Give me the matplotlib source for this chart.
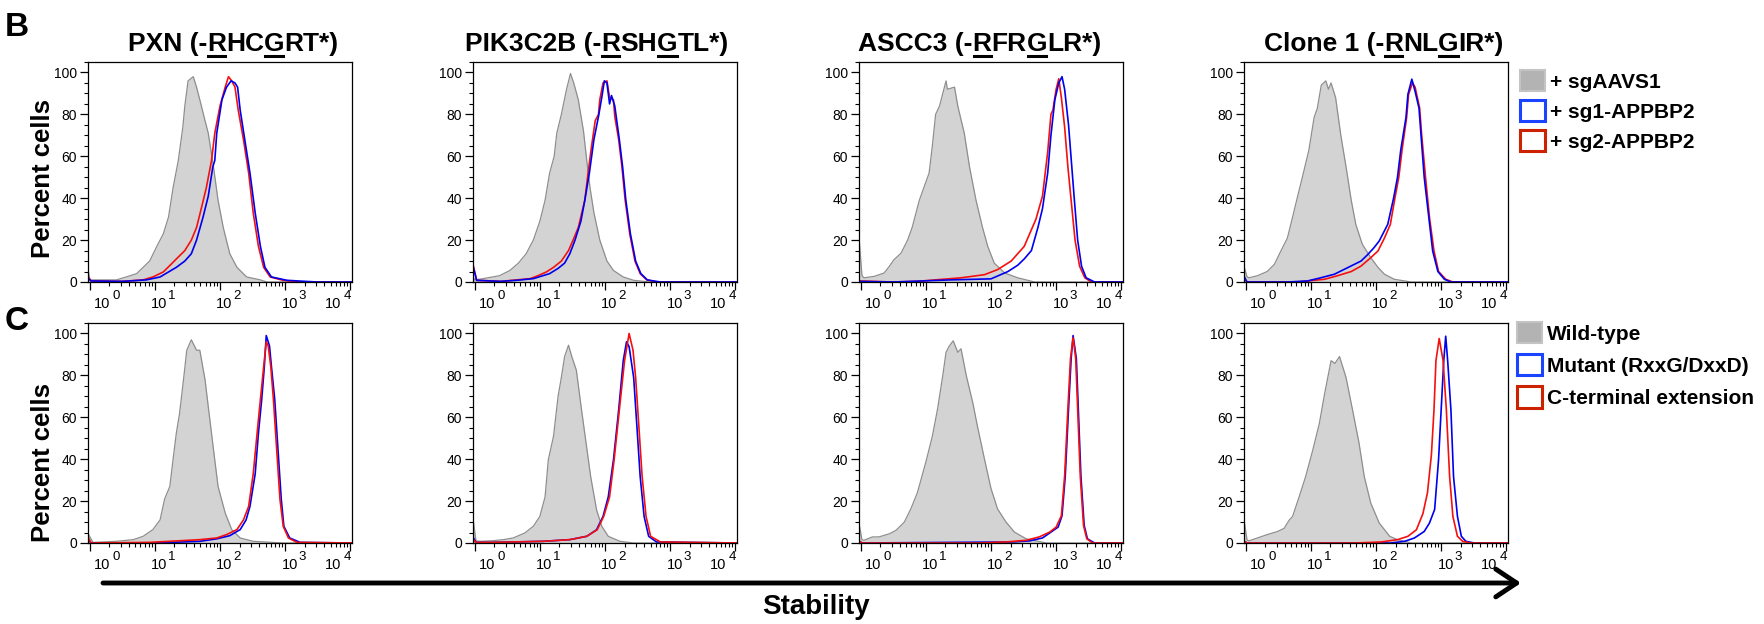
import numpy as np
import matplotlib
matplotlib.use('Agg')
import matplotlib.pyplot as plt
from matplotlib.lines import Line2D
from matplotlib.patches import Patch, FancyArrowPatch
from matplotlib.ticker import LogLocator, MultipleLocator, NullFormatter

plt.rcParams['font.family'] = ['Liberation Sans', 'DejaVu Sans']

# ---- data: x as log10(fluorescence), y as percent of max ----
# row B
b1_gray_lx = [-0.03, 0.0, 0.15, 0.41, 0.56, 0.72, 0.82, 0.92, 1.03, 1.13, 1.21, 1.28, 1.36, 1.43, 1.46, 1.51, 1.59, 1.64, 1.69, 1.77, 1.82, 1.90, 1.97, 2.05, 2.15, 2.26, 2.41, 2.62, 2.72, 4.03]
b1_gray_y = [7, 1, 1, 1, 2.4, 4, 7, 10, 17, 23, 31, 45, 58, 74, 84, 96, 98, 93, 87, 77, 71, 55, 39, 26, 13.5, 7, 2.4, 1, 0, 0]
b1_red_lx = [-0.03, 0.02, 0.5, 0.82, 0.97, 1.13, 1.26, 1.33, 1.46, 1.56, 1.64, 1.72, 1.79, 1.87, 1.92, 2.0, 2.08, 2.13, 2.18, 2.23, 2.28, 2.36, 2.44, 2.51, 2.59, 2.67, 2.77, 2.97, 3.23, 4.03]
b1_red_y = [3, 0.5, 0.3, 1, 2.4, 4.8, 8.8, 11, 15, 20, 26, 36, 45, 58, 71, 84, 93, 98, 96, 93, 82, 68, 52, 33, 17, 7, 2.4, 0.8, 0, 0]
b1_blue_lx = [-0.03, 0.02, 0.5, 0.87, 1.08, 1.21, 1.33, 1.46, 1.56, 1.64, 1.74, 1.82, 1.89, 1.92, 1.95, 2.03, 2.10, 2.17, 2.23, 2.27, 2.31, 2.38, 2.46, 2.54, 2.62, 2.69, 2.79, 3.03, 3.49, 4.03]
b1_blue_y = [2, 0.5, 0.3, 1, 2.4, 4.8, 7, 10, 13.5, 20, 31, 41, 55, 58, 71, 87, 93, 96, 95, 93, 82, 68, 52, 33, 17, 7, 2.4, 0.8, 0, 0]

b2_gray_lx = [-0.03, 0.0, 0.13, 0.38, 0.54, 0.67, 0.79, 0.90, 1.0, 1.08, 1.15, 1.22, 1.26, 1.33, 1.41, 1.47, 1.52, 1.59, 1.67, 1.72, 1.77, 1.83, 1.92, 2.03, 2.13, 2.28, 2.44, 2.69, 4.03]
b2_gray_y = [3, 1, 1.6, 3, 5.5, 9, 13.5, 20, 29, 39, 52, 60, 71, 80, 92, 99.5, 95, 87, 72, 58, 45, 33, 20, 10, 5.5, 2.4, 0.8, 0, 0]
b2_red_lx = [-0.03, 0.03, 0.4, 0.85, 0.97, 1.10, 1.21, 1.33, 1.44, 1.51, 1.59, 1.69, 1.74, 1.79, 1.85, 1.90, 1.92, 1.97, 2.03, 2.07, 2.13, 2.15, 2.21, 2.26, 2.31, 2.38, 2.46, 2.54, 2.64, 2.79, 4.03]
b2_red_y = [9, 0.8, 0.3, 1.6, 3, 4.8, 7, 10, 15, 20, 26, 39, 52, 64, 77, 80, 87, 95, 96, 88, 87, 79, 68, 55, 39, 23, 10, 4, 1, 0, 0]
b2_blue_lx = [-0.03, 0.03, 0.4, 0.64, 0.90, 1.15, 1.28, 1.38, 1.46, 1.54, 1.63, 1.69, 1.76, 1.83, 1.90, 1.95, 1.99, 2.03, 2.07, 2.10, 2.15, 2.22, 2.27, 2.32, 2.39, 2.47, 2.55, 2.65, 2.85, 4.03]
b2_blue_y = [8, 0.8, 0.3, 0.8, 1.6, 4, 6.5, 9, 13.5, 20, 29, 39, 52, 68, 79, 88, 96, 95, 85, 89, 84, 68, 55, 39, 23, 10, 4, 1, 0, 0]

b3_gray_lx = [-0.03, 0.02, 0.05, 0.21, 0.36, 0.44, 0.51, 0.62, 0.72, 0.79, 0.90, 1.05, 1.10, 1.15, 1.21, 1.31, 1.33, 1.44, 1.49, 1.59, 1.67, 1.77, 1.87, 1.95, 2.05, 2.21, 2.41, 2.67, 4.03]
b3_gray_y = [23, 3, 2, 2.7, 4.3, 7.5, 10.6, 13.8, 20, 26, 39, 52, 65, 80, 84, 96, 92, 93, 84, 71, 55, 39, 26, 17, 9, 4.3, 2, 0, 0]
b3_red_lx = [-0.03, 0.5, 0.87, 1.18, 1.54, 1.90, 2.10, 2.31, 2.51, 2.69, 2.79, 2.87, 2.92, 2.95, 3.0, 3.04, 3.08, 3.13, 3.18, 3.23, 3.29, 3.36, 3.44, 3.54, 4.03]
b3_red_y = [0.5, 0, 0.3, 1.1, 2, 3.5, 5.9, 10, 17, 30, 41, 62, 80, 82, 92, 97, 88, 74, 55, 39, 20, 7.5, 2, 0, 0]
b3_blue_lx = [-0.03, 0.5, 1.38, 2.0, 2.26, 2.41, 2.51, 2.62, 2.72, 2.79, 2.87, 2.92, 2.98, 3.04, 3.09, 3.13, 3.19, 3.24, 3.28, 3.33, 3.39, 3.46, 3.59, 4.03]
b3_blue_y = [0.3, 0, 1, 1.5, 5, 8, 11, 15, 26, 35, 52, 70, 87, 95, 98, 92, 75, 55, 39, 20, 7.5, 2, 0, 0]

b4_gray_lx = [-0.03, 0.02, 0.05, 0.18, 0.33, 0.44, 0.54, 0.64, 0.72, 0.79, 0.87, 0.97, 1.05, 1.10, 1.16, 1.23, 1.27, 1.31, 1.38, 1.46, 1.54, 1.62, 1.69, 1.79, 1.92, 2.03, 2.13, 2.28, 2.54, 4.03]
b4_gray_y = [8, 2.5, 2, 3, 5, 8.4, 14.8, 21, 31, 40, 50, 63, 78.5, 83, 94, 96, 92, 95, 88, 70, 55, 39, 27.5, 18, 11.6, 7, 3.7, 1.3, 0, 0]
b4_red_lx = [-0.03, 0.02, 0.79, 1.21, 1.41, 1.62, 1.77, 1.92, 2.03, 2.13, 2.22, 2.29, 2.35, 2.40, 2.47, 2.50, 2.56, 2.60, 2.67, 2.70, 2.76, 2.82, 2.89, 2.96, 3.07, 3.18, 4.03]
b4_red_y = [2, 0, 0, 1.3, 3, 5, 7.6, 11.6, 14.8, 21, 27.5, 40, 50, 63, 78.5, 89.6, 95, 93, 83, 70.5, 50, 31, 14.8, 5, 1.3, 0, 0]
b4_blue_lx = [-0.03, 0.02, 0.64, 0.95, 1.15, 1.36, 1.51, 1.77, 1.87, 1.97, 2.05, 2.18, 2.27, 2.33, 2.38, 2.46, 2.49, 2.55, 2.60, 2.66, 2.69, 2.74, 2.81, 2.87, 2.95, 3.05, 3.15, 4.03]
b4_blue_y = [3, 0, 0, 0.5, 2, 3.7, 6, 10, 13, 16.4, 19.6, 27.5, 40, 50, 63, 78.5, 89.6, 96.8, 91, 83, 70.5, 50, 31, 14.8, 5, 1.3, 0, 0]

# row C
c1_gray_lx = [-0.03, 0.05, 0.41, 0.67, 0.82, 0.97, 1.08, 1.15, 1.23, 1.28, 1.33, 1.38, 1.44, 1.49, 1.56, 1.64, 1.69, 1.77, 1.82, 1.90, 1.97, 2.08, 2.18, 2.31, 2.51, 2.97, 4.03]
c1_gray_y = [4.8, 0.3, 0.8, 1.6, 3.2, 6.4, 11, 21, 27, 40, 52.5, 62, 78, 92, 97, 92, 92, 78, 65, 44.6, 27, 14.3, 6.4, 2.4, 0.8, 0, 0]
c1_red_lx = [-0.03, 0.02, 0.92, 1.69, 1.95, 2.10, 2.26, 2.36, 2.44, 2.51, 2.57, 2.62, 2.67, 2.71, 2.74, 2.78, 2.82, 2.87, 2.92, 2.97, 3.05, 3.18, 4.03]
c1_red_y = [3, 0, 0.3, 1.6, 2.4, 4, 6.4, 11, 17.5, 33, 52.5, 68.5, 84, 96, 94, 84, 68.5, 44.6, 21, 8, 2.4, 0.3, 0]
c1_blue_lx = [-0.03, 0.02, 1.0, 1.69, 1.95, 2.15, 2.31, 2.40, 2.46, 2.54, 2.59, 2.64, 2.68, 2.71, 2.76, 2.79, 2.84, 2.89, 2.94, 2.98, 3.07, 3.23, 4.03]
c1_blue_y = [2, 0, 0, 0.8, 2, 3.5, 6.4, 11, 17.5, 33, 52.5, 68.5, 84, 99, 94, 84, 68.5, 44.6, 21, 8, 2.4, 0.3, 0]

c2_gray_lx = [-0.03, 0.02, 0.08, 0.28, 0.44, 0.59, 0.77, 0.90, 1.0, 1.08, 1.13, 1.21, 1.28, 1.33, 1.38, 1.44, 1.49, 1.56, 1.64, 1.71, 1.78, 1.87, 1.95, 2.05, 2.23, 2.44, 4.03]
c2_gray_y = [12.7, 1, 0.8, 1.1, 1.6, 2.4, 4.8, 8, 12.7, 22, 39.7, 51, 70, 79, 89, 94.4, 89, 82.5, 63.5, 47.6, 31.7, 15.9, 8, 3.2, 0.8, 0, 0]
c2_red_lx = [-0.03, 0.02, 0.28, 1.05, 1.46, 1.72, 1.88, 1.98, 2.07, 2.14, 2.22, 2.30, 2.37, 2.43, 2.47, 2.52, 2.57, 2.63, 2.70, 2.85, 4.03]
c2_red_y = [2, 0.3, 0.3, 0.8, 1.6, 3.2, 6.3, 12.7, 22, 39.7, 63.5, 87, 100, 92, 79, 55.5, 31.7, 12.7, 3.2, 0.5, 0]
c2_blue_lx = [-0.03, 0.02, 0.28, 1.05, 1.46, 1.72, 1.87, 1.97, 2.05, 2.13, 2.21, 2.28, 2.33, 2.37, 2.44, 2.49, 2.54, 2.60, 2.67, 2.79, 4.03]
c2_blue_y = [3, 0.3, 0.3, 0.8, 1.6, 3.2, 6.3, 12.7, 22, 39.7, 63.5, 87, 96, 93.7, 79, 55.5, 31.7, 12.7, 3.2, 0.5, 0]

c3_gray_lx = [-0.03, 0.02, 0.05, 0.18, 0.28, 0.44, 0.54, 0.67, 0.77, 0.87, 1.0, 1.10, 1.18, 1.26, 1.31, 1.36, 1.42, 1.49, 1.54, 1.62, 1.72, 1.79, 1.90, 2.0, 2.10, 2.23, 2.36, 2.54, 2.85, 4.03]
c3_gray_y = [10, 1.5, 1.3, 2.9, 2.9, 4.4, 6, 10, 16.3, 24, 38.6, 51, 64, 80, 91, 94, 96.5, 91, 92.7, 80, 67, 56, 40, 26, 16.3, 10, 5.2, 2, 0, 0]
c3_red_lx = [-0.03, 0.02, 1.82, 2.23, 2.54, 2.74, 2.90, 3.0, 3.08, 3.13, 3.18, 3.22, 3.26, 3.30, 3.33, 3.37, 3.42, 3.47, 3.56, 4.03]
c3_red_y = [1, 0, 0, 0.5, 1.3, 2.9, 5.2, 7.6, 13, 32, 64, 88, 98, 88, 64, 32, 8.4, 2, 0, 0]
c3_blue_lx = [-0.03, 0.02, 2.33, 2.59, 2.79, 2.92, 3.03, 3.09, 3.14, 3.19, 3.23, 3.26, 3.31, 3.34, 3.38, 3.43, 3.48, 3.59, 4.03]
c3_blue_y = [1, 0, 0.5, 1, 2.4, 5.2, 7.6, 13, 32, 64, 88, 99, 88, 64, 32, 8.4, 2, 0, 0]

c4_gray_lx = [-0.03, 0.02, 0.05, 0.18, 0.33, 0.49, 0.59, 0.67, 0.72, 0.82, 0.92, 1.03, 1.13, 1.21, 1.26, 1.31, 1.37, 1.44, 1.49, 1.54, 1.64, 1.74, 1.82, 1.92, 2.05, 2.21, 2.33, 2.54, 4.03]
c4_gray_y = [12, 1.5, 1, 2.4, 4, 5.5, 7, 11, 12.7, 22, 31.7, 44.4, 57, 71, 79, 87, 85.7, 89, 84, 79, 63.5, 47.6, 31.7, 19, 9.5, 3.2, 1.6, 0, 0]
c4_red_lx = [-0.03, 0.02, 1.67, 2.08, 2.33, 2.49, 2.62, 2.72, 2.79, 2.85, 2.89, 2.92, 2.97, 3.03, 3.08, 3.13, 3.18, 3.25, 3.33, 3.46, 4.03]
c4_red_y = [1, 0, 0, 0.5, 1.6, 3.2, 6.3, 14, 24, 42, 63.5, 87, 97.6, 87, 63.5, 31.7, 12.7, 3.2, 0.8, 0, 0]
c4_blue_lx = [-0.03, 0.02, 2.23, 2.44, 2.59, 2.74, 2.82, 2.90, 2.96, 3.0, 3.04, 3.07, 3.10, 3.15, 3.19, 3.25, 3.31, 3.38, 3.51, 4.03]
c4_blue_y = [1, 0, 0, 0.8, 2.4, 5.5, 9.5, 16, 39.7, 63.5, 87, 98.7, 87, 63.5, 31.7, 12.7, 3.2, 0.8, 0, 0]

# titles: (text, underlined)
titles = [
    [("PXN (-", False), ("R", True), ("HC", False), ("G", True), ("RT*)", False)],
    [("PIK3C2B (-", False), ("R", True), ("SH", False), ("G", True), ("TL*)", False)],
    [("ASCC3 (-", False), ("R", True), ("FR", False), ("G", True), ("LR*)", False)],
    [("Clone 1 (-", False), ("R", True), ("NL", False), ("G", True), ("IR*)", False)],
]
legend_b = ["+ sgAAVS1", "+ sg1-APPBP2", "+ sg2-APPBP2"]
legend_c = ["Wild-type", "Mutant (RxxG/DxxD)", "C-terminal extension"]
y_ticks = [0, 20, 40, 60, 80, 100]
x_decades = [0, 1, 2, 3, 4]

GRAY_FILL = '#d3d3d3'
GRAY_LINE = '#8e8e8e'
BLUE = '#0000f0'
RED = '#f51010'

W, H = 1764, 624
fig = plt.figure(figsize=(W / 100, H / 100), dpi=100)


def px_axes(left, top, width, height):
    return fig.add_axes([left / W, 1 - (top + height) / H, width / W, height / H])


# FlowJo style decade labels: "10" and its exponent, offsets in pixels from the tick
base_dx = [12, 4.5, 4.5, 4.5, -17.5]
exp_dx = [26, 17, 17, 17, -3]


def draw_panel(ax, gray, curves):
    gx = 10 ** np.array(gray[0])
    ax.fill_between(gx, gray[1], 0, color=GRAY_FILL, lw=0)
    ax.plot(gx, gray[1], color=GRAY_LINE, lw=0.9)
    for lx, y, c in curves:
        ax.plot(10 ** np.array(lx), y, color=c, lw=1.2)
    ax.set_xscale('log')
    ax.set_xlim(10 ** -0.026, 10 ** 4.026)
    ax.set_ylim(0, 105)
    ax.set_yticks(y_ticks)
    ax.yaxis.set_minor_locator(MultipleLocator(5))
    ax.set_xticks([10.0 ** k for k in x_decades])
    ax.set_xticklabels([])
    ax.xaxis.set_minor_locator(LogLocator(base=10, subs=np.arange(2, 10)))
    ax.xaxis.set_minor_formatter(NullFormatter())
    ax.tick_params(which='major', direction='out', length=6, width=0.9, labelsize=10, pad=2, colors='black')
    ax.tick_params(which='minor', direction='out', length=3, width=0.8)
    for s in ax.spines.values():
        s.set_linewidth(0.9)
    for k, bx, ex in zip(x_decades, base_dx, exp_dx):
        ax.annotate('10', xy=(10.0 ** k, 0), xycoords=('data', 'axes fraction'), xytext=(bx, -26),
                    textcoords='offset pixels', ha='center', va='baseline', fontsize=10.5, annotation_clip=False)
        ax.annotate(str(k), xy=(10.0 ** k, 0), xycoords=('data', 'axes fraction'), xytext=(ex, -17),
                    textcoords='offset pixels', ha='center', va='baseline', fontsize=9.5, annotation_clip=False)


col_left = [88, 473, 859, 1244]
row_top = [62, 323]
ax_w, ax_h = 264, 220
title_cx = [233, 597, 980, 1384]

row_b = [
    ((b1_gray_lx, b1_gray_y), [(b1_red_lx, b1_red_y, RED), (b1_blue_lx, b1_blue_y, BLUE)]),
    ((b2_gray_lx, b2_gray_y), [(b2_red_lx, b2_red_y, RED), (b2_blue_lx, b2_blue_y, BLUE)]),
    ((b3_gray_lx, b3_gray_y), [(b3_red_lx, b3_red_y, RED), (b3_blue_lx, b3_blue_y, BLUE)]),
    ((b4_gray_lx, b4_gray_y), [(b4_red_lx, b4_red_y, RED), (b4_blue_lx, b4_blue_y, BLUE)]),
]
row_c = [
    ((c1_gray_lx, c1_gray_y), [(c1_blue_lx, c1_blue_y, BLUE), (c1_red_lx, c1_red_y, RED)]),
    ((c2_gray_lx, c2_gray_y), [(c2_blue_lx, c2_blue_y, BLUE), (c2_red_lx, c2_red_y, RED)]),
    ((c3_gray_lx, c3_gray_y), [(c3_blue_lx, c3_blue_y, BLUE), (c3_red_lx, c3_red_y, RED)]),
    ((c4_gray_lx, c4_gray_y), [(c4_blue_lx, c4_blue_y, BLUE), (c4_red_lx, c4_red_y, RED)]),
]

for i in range(4):
    a = px_axes(col_left[i], row_top[0], ax_w, ax_h)
    draw_panel(a, *row_b[i])
    a = px_axes(col_left[i], row_top[1], ax_w, ax_h)
    draw_panel(a, *row_c[i])

# titles with underlined residues
renderer = fig.canvas.get_renderer()
for i, parts in enumerate(titles):
    texts = [fig.text(0, 1 - 51 / H, s, fontsize=19, fontweight='bold', va='baseline') for s, u in parts]
    widths = [t.get_window_extent(renderer).width for t in texts]
    x = title_cx[i] - sum(widths) / 2
    for t, w, (s, u) in zip(texts, widths, parts):
        t.set_x(x / W)
        if u:
            fig.add_artist(Line2D([(x + 1) / W, (x + w - 1) / W], [1 - 55.5 / H] * 2,
                                  color='black', lw=2.2, transform=fig.transFigure))
        x += w

# panel letters and y labels
fig.text(5 / W, 1 - 36 / H, 'B', fontsize=24, fontweight='bold', va='baseline')
fig.text(5 / W, 1 - 330 / H, 'C', fontsize=24, fontweight='bold', va='baseline')
fig.text(43 / W, 1 - 179 / H, 'Percent cells', rotation=90, ha='center', va='center', fontsize=18.5, fontweight='bold')
fig.text(43 / W, 1 - 463 / H, 'Percent cells', rotation=90, ha='center', va='center', fontsize=18.5, fontweight='bold')

# legends
legend_kw = dict(loc='upper left', frameon=False, prop={'weight': 'bold', 'size': 15},
                 handlelength=1.2, handleheight=1.2, handletextpad=0.25,
                 borderpad=0, borderaxespad=0)
h_b = [Patch(facecolor='#b3b3b3', edgecolor='#c4c4c4', lw=1.5),
       Patch(facecolor='white', edgecolor='#1a44ff', lw=2.2),
       Patch(facecolor='white', edgecolor='#cc2200', lw=2.2)]
fig.legend(h_b, legend_b, bbox_to_anchor=(1520 / W, 1 - 70 / H), labelspacing=0.4, **legend_kw)
h_c = [Patch(facecolor='#b3b3b3', edgecolor='#c4c4c4', lw=1.5),
       Patch(facecolor='white', edgecolor='#1a44ff', lw=2.2),
       Patch(facecolor='white', edgecolor='#cc2200', lw=2.2)]
fig.legend(h_c, legend_c, bbox_to_anchor=(1517 / W, 1 - 322 / H), labelspacing=0.5, **legend_kw)

# stability arrow
fig.add_artist(FancyArrowPatch((103 / W, 1 - 583 / H), (1521 / W, 1 - 583 / H), transform=fig.transFigure,
                               arrowstyle='->,head_length=0.75,head_width=0.5', mutation_scale=20,
                               lw=3.5, color='black', shrinkA=0, shrinkB=0))
fig.text(816 / W, 1 - 607 / H, 'Stability', ha='center', va='center', fontsize=20, fontweight='bold')

fig.savefig('out.png', dpi=100)
